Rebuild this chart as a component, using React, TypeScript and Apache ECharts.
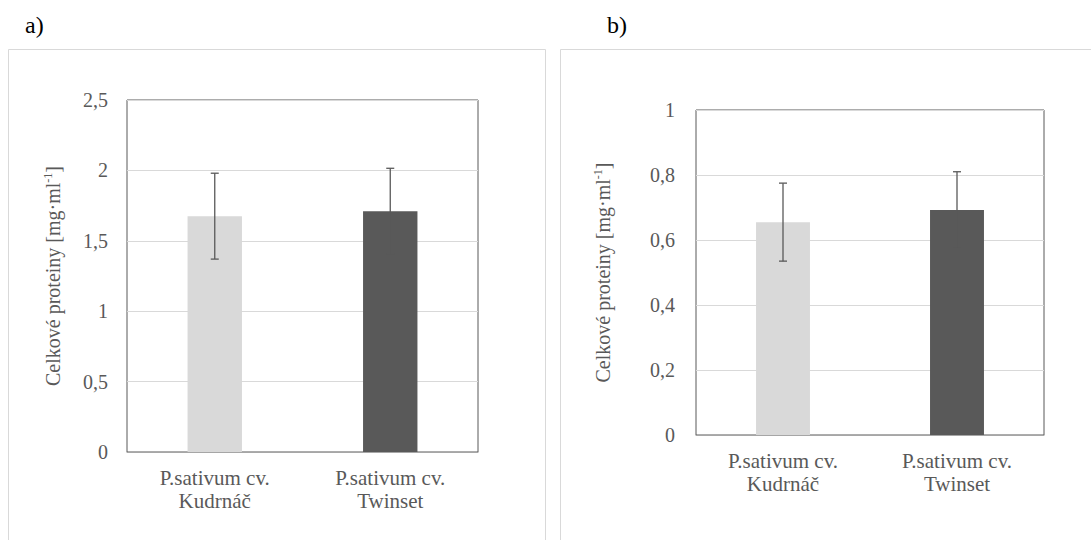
import React, { useEffect, useRef } from "react";
import * as echarts from "echarts";

const categories = ["P.sativum cv.\nKudrnáč", "P.sativum cv.\nTwinset"];
const barColors = ["#d9d9d9", "#595959"];
const valuesA = [1.675, 1.71];
const errorsA = [0.305, 0.305];
const valuesB = [0.655, 0.692];
const errorsB = [0.12, 0.118];
const panelLabels = ["a)", "b)"];

const FONT = "Liberation Serif";
const GRAY = "#595959";

function errData(vals: number[], errs: number[]) {
  return vals.map((v, i) => [i, v - errs[i], v + errs[i]]);
}

function renderErr(params: any, api: any) {
  const x = api.value(0);
  const lo = api.coord([x, api.value(1)]);
  const hi = api.coord([x, api.value(2)]);
  const cap = 4;
  const style = { stroke: GRAY, lineWidth: 1.3 };
  return {
    type: "group",
    children: [
      { type: "line", shape: { x1: hi[0], y1: hi[1], x2: lo[0], y2: lo[1] }, style },
      { type: "line", shape: { x1: hi[0] - cap, y1: hi[1], x2: hi[0] + cap, y2: hi[1] }, style },
      { type: "line", shape: { x1: lo[0] - cap, y1: lo[1], x2: lo[0] + cap, y2: lo[1] }, style },
    ],
  };
}

const axisName = {
  fontFamily: FONT,
  fontSize: 20,
  color: GRAY,
  rich: {
    a: { fontFamily: FONT, fontSize: 20, color: GRAY },
    s: { fontFamily: FONT, fontSize: 12, color: GRAY, verticalAlign: "top", padding: [0, 0, 9, 0] },
  },
};

function yAxis(gridIndex: number, max: number, interval: number, margin: number, nameGap: number) {
  return {
    type: "value",
    gridIndex,
    min: 0,
    max,
    interval,
    name: "{a|Celkové proteiny [mg·ml}{s|-1}{a|]}",
    nameLocation: "middle",
    nameRotate: 90,
    nameGap,
    nameTextStyle: axisName,
    axisLine: { show: false },
    axisTick: { show: false },
    splitLine: { lineStyle: { color: "#d9d9d9", width: 1 } },
    axisLabel: {
      margin,
      fontFamily: FONT,
      fontSize: 20,
      color: GRAY,
      formatter: (v: number) => String(Math.round(v * 10) / 10).replace(".", ","),
    },
  };
}

function xAxis(gridIndex: number) {
  return {
    type: "category",
    gridIndex,
    data: categories,
    axisTick: { show: false },
    axisLine: { lineStyle: { color: "#a6a6a6", width: 1 } },
    axisLabel: {
      margin: 14,
      fontFamily: FONT,
      fontSize: 21,
      lineHeight: 23,
      color: GRAY,
    },
  };
}

export default function App() {
  const ref = useRef<HTMLDivElement>(null);
  useEffect(() => {
    if (!ref.current) return;
    const chart = echarts.init(ref.current, undefined, { renderer: "svg" });
    chart.setOption({
      animation: false,
      backgroundColor: "#ffffff",
      graphic: [
        { type: "rect", shape: { x: 8.5, y: 49.5, width: 537, height: 520 }, style: { fill: "#fff", stroke: "#d9d9d9", lineWidth: 1 }, z: -10 },
        { type: "rect", shape: { x: 560.5, y: 49.5, width: 540, height: 520 }, style: { fill: "#fff", stroke: "#d9d9d9", lineWidth: 1 }, z: -10 },
        { type: "text", x: 25, y: 13, style: { text: panelLabels[0], fontFamily: FONT, fontSize: 24, fill: "#000" } },
        { type: "text", x: 607, y: 13, style: { text: panelLabels[1], fontFamily: FONT, fontSize: 24, fill: "#000" } },
      ],
      grid: [
        { left: 127, top: 100, width: 351, height: 352, show: true, borderColor: GRAY, borderWidth: 1, backgroundColor: "transparent" },
        { left: 696, top: 110, width: 348, height: 325, show: true, borderColor: GRAY, borderWidth: 1, backgroundColor: "transparent" },
      ],
      xAxis: [xAxis(0), xAxis(1)],
      yAxis: [yAxis(0, 2.5, 0.5, 19, 64), yAxis(1, 1, 0.2, 21, 83)],
      series: [
        {
          type: "bar",
          xAxisIndex: 0,
          yAxisIndex: 0,
          barWidth: "31%",
          data: valuesA.map((v, i) => ({ value: v, itemStyle: { color: barColors[i] } })),
        },
        {
          type: "custom",
          xAxisIndex: 0,
          yAxisIndex: 0,
          renderItem: renderErr,
          data: errData(valuesA, errorsA),
          z: 5,
        },
        {
          type: "bar",
          xAxisIndex: 1,
          yAxisIndex: 1,
          barWidth: "31%",
          data: valuesB.map((v, i) => ({ value: v, itemStyle: { color: barColors[i] } })),
        },
        {
          type: "custom",
          xAxisIndex: 1,
          yAxisIndex: 1,
          renderItem: renderErr,
          data: errData(valuesB, errorsB),
          z: 5,
        },
      ],
    });
    return () => chart.dispose();
  }, []);
  return (
    <div
      ref={ref}
      style={{ position: "fixed", left: 0, top: 0, width: 1091, height: 540 }}
    />
  );
}
